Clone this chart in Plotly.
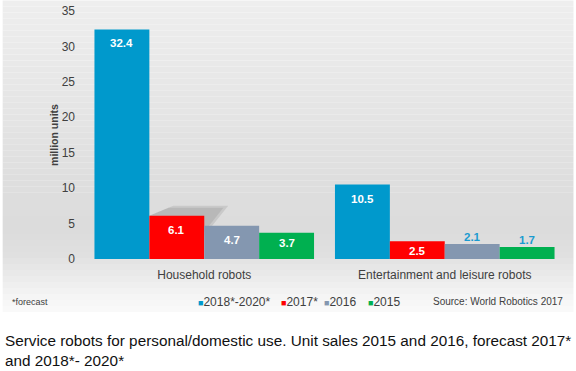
import plotly.graph_objects as go

categories = ["Household robots", "Entertainment and leisure robots"]
series_names = ["2018*-2020*", "2017*", "2016", "2015"]
values_2018_2020 = [32.4, 10.5]
values_2017 = [6.1, 2.5]
values_2016 = [4.7, 2.1]
values_2015 = [3.7, 1.7]
y_ticks = [0, 5, 10, 15, 20, 25, 30, 35]

colors = ["#0099cc", "#ff0000", "#8497b0", "#00b050"]
label_blue = "#1a9bd0"
all_values = [values_2018_2020, values_2017, values_2016, values_2015]

W, H = 576, 371
L, R, T, B = 83.5, 10.5, 10.5, 112
FONT = "Arial, Liberation Sans, sans-serif"
BARGAP = 0.087
YMAX = 35

ph = H - T - B
pw = W - L - R

fig = go.Figure()
for name, vals, col in zip(series_names, all_values, colors):
    fig.add_trace(go.Bar(
        x=categories, y=vals, name=name,
        marker=dict(color=col, line=dict(width=0)),
        showlegend=False,
        hovertemplate="%{x}<br>" + name + ": %{y}<extra></extra>",
    ))

annotations = []
nser = len(series_names)
bw = (1 - BARGAP) / nser
def bar_center(i, j):
    return i + (j - (nser - 1) / 2) * bw

for j, vals in enumerate(all_values):
    for i, v in enumerate(vals):
        xpos = bar_center(i, j)
        bar_px = v * ph / YMAX
        if v >= 2.4:
            shift = -6 if bar_px > 30 else -2
            annotations.append(dict(x=xpos, y=v, xref="x", yref="y", showarrow=False,
                                    yanchor="top", yshift=shift, text=f"<b>{v:.1f}</b>",
                                    font=dict(family=FONT, size=11.5, color="white")))
        else:
            annotations.append(dict(x=xpos, y=v, xref="x", yref="y", showarrow=False,
                                    yanchor="bottom", yshift=-1, text=f"<b>{v:.1f}</b>",
                                    font=dict(family=FONT, size=11.5, color=label_blue)))

def py2paper(py):
    return (H - B - py) / ph
def px2paper(px):
    return (px - L) / pw

stops = [(0, 238), (60, 233), (120, 228), (180, 222), (230, 220), (255, 224), (275, 234), (295, 244), (312, 250)]
def gray_at(y):
    for (y0, g0), (y1, g1) in zip(stops[:-1], stops[1:]):
        if y0 <= y <= y1:
            return g0 + (g1 - g0) * (y - y0) / (y1 - y0)
    return stops[-1][1]

shapes = []
n = 52
for i in range(n):
    y0 = 312 * i / n
    y1 = 312 * (i + 1) / n
    g = int(round(gray_at((y0 + y1) / 2)))
    shapes.append(dict(type="rect", xref="paper", yref="paper", layer="below",
                       x0=px2paper(2), x1=px2paper(574), y0=py2paper(y1), y1=py2paper(y0),
                       fillcolor=f"rgb({g},{g},{g})", line=dict(width=0)))

# soft cast shadow behind the 2017* household bar (decoration)
v = values_2017[0]
xl = bar_center(0, 1) - bw / 2
xr = bar_center(0, 1) + bw / 2
dx = 24 / (pw / 2)
dy = 10 * YMAX / ph
for k, op in [(1.0, 0.18), (0.8, 0.18)]:
    shapes.append(dict(type="path", xref="x", yref="y", layer="below",
                       path=f"M{xl},{v} L{xl + dx * k},{v + dy * k} L{xr + dx * k},{v + dy * k} L{xr},{v - dy * 2 * k} Z",
                       fillcolor=f"rgba(110,110,110,{op})", line=dict(width=0)))

leg_x = [196, 279, 322, 366]
for name, col, lx in zip(series_names, colors, leg_x):
    annotations.append(dict(
        xref="paper", yref="paper", x=px2paper(lx), y=py2paper(302),
        xanchor="left", yanchor="middle", showarrow=False,
        text=f"<span style='color:{col};font-size:9px'>■</span>{name}",
        font=dict(family=FONT, size=12, color="#404040")))
annotations.append(dict(xref="paper", yref="paper", x=px2paper(9), y=py2paper(302),
                        xanchor="left", yanchor="middle", showarrow=False,
                        text="*forecast", font=dict(family=FONT, size=9, color="#404040")))
annotations.append(dict(xref="paper", yref="paper", x=px2paper(566), y=py2paper(302),
                        xanchor="right", yanchor="middle", showarrow=False,
                        text="Source: World Robotics 2017", font=dict(family=FONT, size=10, color="#404040")))
annotations.append(dict(xref="paper", yref="paper", x=px2paper(2), y=py2paper(330),
                        xanchor="left", yanchor="top", showarrow=False, align="left",
                        text="Service robots for personal/domestic use. Unit sales 2015 and 2016, forecast 2017*<br>and 2018*- 2020*",
                        font=dict(family=FONT, size=15.3, color="#111111")))

fig.update_layout(
    width=W, height=H,
    margin=dict(l=L, r=R, t=T, b=B, autoexpand=False),
    paper_bgcolor="white", plot_bgcolor="rgba(0,0,0,0)",
    barmode="group", bargap=BARGAP, bargroupgap=0,
    font=dict(family=FONT, color="#404040"),
    shapes=shapes, annotations=annotations,
    xaxis=dict(showgrid=False, showline=False, zeroline=False, ticks="",
               tickfont=dict(family=FONT, size=12, color="#404040"),
               ticklabelstandoff=7),
    yaxis=dict(range=[0, YMAX], tickvals=y_ticks, showgrid=False, showline=False, zeroline=False,
               ticks="", tickfont=dict(family=FONT, size=12, color="#404040"),
               ticklabelstandoff=8,
               title=dict(text="<b>million units</b>", font=dict(family=FONT, size=10.5, color="#404040"), standoff=0)),
)

fig.write_html("out.html", config={"displayModeBar": False},
               post_script="document.body.style.margin='0';document.body.style.padding='0';")
